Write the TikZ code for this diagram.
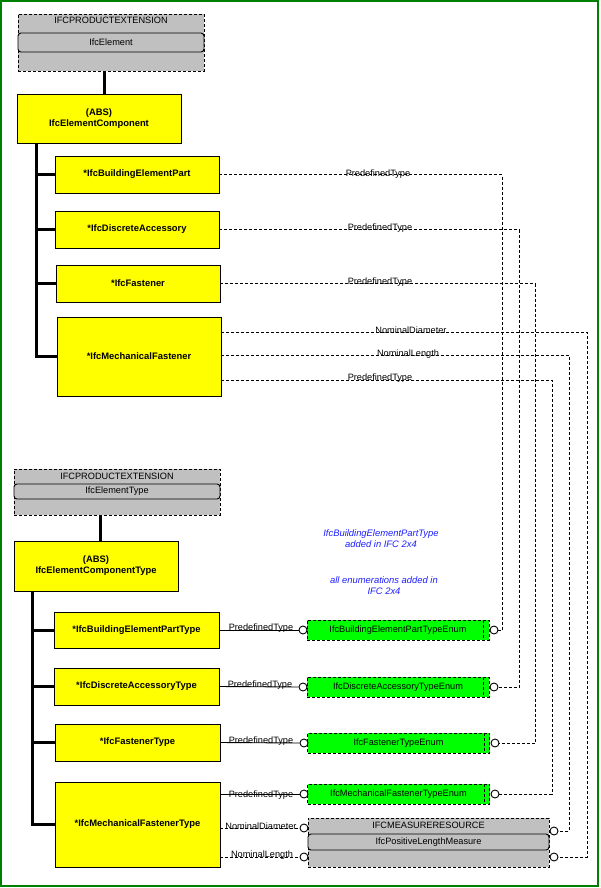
\documentclass[tikz,border=0pt]{standalone}
\usepackage{fontspec}
\setmainfont{Liberation Sans}

\definecolor{ifcyellow}{RGB}{255,255,0}
\definecolor{ifcgrey}{RGB}{192,192,192}
\definecolor{ifcgreen}{RGB}{0,255,0}
\definecolor{framegreen}{RGB}{0,128,0}
\definecolor{noteblue}{RGB}{30,30,255}

\tikzset{
  entity/.style={draw, fill=ifcyellow, align=center, inner sep=0pt, font=\fontsize{9.4}{11}\selectfont\bfseries},
  enumbox/.style={draw, dash pattern=on 3pt off 2pt, fill=ifcgreen, minimum width=182, minimum height=20, inner sep=0pt, font=\fontsize{9.2}{10}\selectfont},
  pkgbox/.style={draw, dash pattern=on 3pt off 2pt, fill=ifcgrey, inner sep=0pt},
  pkgrow/.style={draw, rounded corners=3pt, fill=ifcgrey, inner sep=0pt, font=\fontsize{9.2}{10}\selectfont},
  pkgtitle/.style={inner sep=0pt, font=\fontsize{9.2}{10}\selectfont},
  port/.style={circle, draw, fill=white, minimum size=8, inner sep=0pt},
  attr/.style={dash pattern=on 3pt off 2pt},
  inherit/.style={line width=3pt},
  lbl/.style={inner sep=0pt, font=\fontsize{9.2}{10}\selectfont},
  note/.style={align=center, text=noteblue, inner sep=0pt, font=\fontsize{9.4}{11}\selectfont\itshape}
}

\begin{document}
\begin{tikzpicture}[x=1pt, y=-1pt, line width=0.9pt]

  \useasboundingbox (0,0) rectangle (600,888);
  \draw[framegreen, line width=1.5pt] (1,1) rectangle (598,886);

  % occurrence side
  \node[pkgbox, minimum width=186, minimum height=57] (ext1) at (111,42.5) {};
  \node[pkgtitle] (ext1t) at (111,20) {IFCPRODUCTEXTENSION};
  \node[pkgrow, minimum width=186, minimum height=19] (elem) at (111,42.5) {IfcElement};

  \node[entity, minimum width=164, minimum height=49] (comp) at (99,118.5) {(ABS)\\IfcElementComponent};
  \node[entity, minimum width=164, minimum height=37] (bep) at (137,174.5) {*IfcBuildingElementPart};
  \node[entity, minimum width=164, minimum height=37] (da) at (137,229.5) {*IfcDiscreteAccessory};
  \node[entity, minimum width=164, minimum height=37] (fa) at (138,283.5) {*IfcFastener};
  \node[entity, minimum width=164, minimum height=79] (mf) at (139,356.5) {*IfcMechanicalFastener};

  \draw[inherit] ([xshift=-7pt]ext1.south) -- ([xshift=-7pt]ext1.south |- comp.north);
  \coordinate (bus1) at ([xshift=20pt]comp.south west);
  \draw[inherit] (bus1) |- (mf.west);
  \draw[inherit] (bep.west) -- (bep.west -| bus1);
  \draw[inherit] (da.west) -- (da.west -| bus1);
  \draw[inherit] (fa.west) -- (fa.west -| bus1);

  % type side
  \node[pkgbox, minimum width=206, minimum height=46] (ext2) at (117,492) {};
  \node[pkgtitle] (ext2t) at (117,476) {IFCPRODUCTEXTENSION};
  \node[pkgrow, minimum width=206, minimum height=15] (elemt) at (117,491.5) {IfcElementType};

  \node[entity, minimum width=164, minimum height=50] (comp2) at (96,566) {(ABS)\\IfcElementComponentType};
  \node[entity, minimum width=165, minimum height=36] (bept) at (136.5,630) {*IfcBuildingElementPartType};
  \node[entity, minimum width=165, minimum height=37] (dat) at (136.5,686.5) {*IfcDiscreteAccessoryType};
  \node[entity, minimum width=165, minimum height=37] (fat) at (137.5,742.5) {*IfcFastenerType};
  \node[entity, minimum width=165, minimum height=85] (mft) at (137.5,824.5) {*IfcMechanicalFastenerType};

  \draw[inherit] ([xshift=-17pt]ext2.south) -- ([xshift=-17pt]ext2.south |- comp2.north);
  \coordinate (bus2) at ([xshift=19pt]comp2.south west);
  \draw[inherit] (bus2) |- (mft.west);
  \draw[inherit] (bept.west) -- (bept.west -| bus2);
  \draw[inherit] (dat.west) -- (dat.west -| bus2);
  \draw[inherit] (fat.west) -- (fat.west -| bus2);

  \node[note] (note1) at (381,538.5) {IfcBuildingElementPartType\\added in IFC 2x4};
  \node[note] (note2) at (384,585.5) {all enumerations added in\\IFC 2x4};

  % enumerations and measure
  \node[enumbox] (bepe) at (398,630) {IfcBuildingElementPartTypeEnum};
  \node[enumbox] (dae) at (398,687) {IfcDiscreteAccessoryTypeEnum};
  \node[enumbox] (fae) at (398.5,743) {IfcFastenerTypeEnum};
  \node[enumbox] (mfe) at (398.5,794) {IfcMechanicalFastenerTypeEnum};
  \foreach \e in {bepe, dae, fae, mfe}
    \draw[attr] ([xshift=-6pt]\e.north east) -- ([xshift=-6pt]\e.south east);

  \node[pkgbox, minimum width=241, minimum height=49] (msr) at (428.5,842.5) {};
  \node[pkgtitle] (msrt) at (428.5,825) {IFCMEASURERESOURCE};
  \node[pkgrow, minimum width=241, minimum height=16] (plm) at (428.5,842) {IfcPositiveLengthMeasure};

  \node[port] (bepeL) at (303,630) {};
  \node[port] (bepeR) at (494,630) {};
  \node[port] (daeL) at (303,687) {};
  \node[port] (daeR) at (494,687) {};
  \node[port] (faeL) at (304,743) {};
  \node[port] (faeR) at (495,743) {};
  \node[port] (mfeL) at (304,794) {};
  \node[port] (mfeR) at (495,794) {};
  \node[port] (msrL1) at (304,828) {};
  \node[port] (msrL2) at (304,857) {};
  \node[port] (msrR1) at (554,831) {};
  \node[port] (msrR2) at (554,857) {};

  % attributes of the types
  \draw (bept.east) -- (bepeL.west);
  \draw (dat.east) -- (daeL.west);
  \draw (fat.east) -- (faeL.west);
  \draw (mft.east |- mfeL.west) -- (mfeL.west);
  \draw[attr] (mft.east |- msrL1.west) -- (msrL1.west);
  \draw[attr] (mft.east |- msrL2.west) -- (msrL2.west);
  \node[lbl] at (261,628) {PredefinedType};
  \node[lbl] at (260,685) {PredefinedType};
  \node[lbl] at (261,741) {PredefinedType};
  \node[lbl] at (261,795) {PredefinedType};
  \node[lbl] at (261,826) {NominalDiameter};
  \node[lbl] at (262,855) {NominalLength};

  % attributes of the occurrences
  \draw[attr] (bep.east) -| ([xshift=4pt]bepeR.east) -- (bepeR.east);
  \draw[attr] (da.east) -| ([xshift=21pt]daeR.east) -- (daeR.east);
  \draw[attr] (fa.east) -| ([xshift=36pt]faeR.east) -- (faeR.east);
  \draw[attr] ([yshift=24.5pt]mf.east) -| ([xshift=29pt]msrR2.east) -- (msrR2.east);
  \draw[attr] ([yshift=1.5pt]mf.east) -| ([xshift=11pt]msrR1.east) -- (msrR1.east);
  \draw[attr] ([yshift=-23.5pt]mf.east) -| ([xshift=53pt]mfeR.east) -- (mfeR.east);
  \node[lbl] at (378,174) {PredefinedType};
  \node[lbl] at (380,228) {PredefinedType};
  \node[lbl] at (380,282) {PredefinedType};
  \node[lbl] at (411,330) {NominalDiameter};
  \node[lbl] at (408,354) {NominalLength};
  \node[lbl] at (380,378) {PredefinedType};

\end{tikzpicture}
\end{document}
